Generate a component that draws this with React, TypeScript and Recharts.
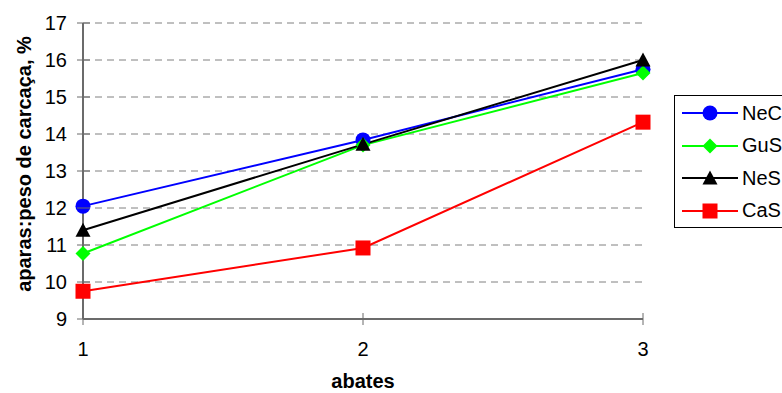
import React from "react";
import {
  LineChart,
  Line,
  XAxis,
  YAxis,
  CartesianGrid,
  Label,
} from "recharts";

const abates = [1, 2, 3];
const neC = [12.05, 13.84, 15.75];
const guS = [10.77, 13.7, 15.65];
const neS = [11.4, 13.72, 16.0];
const caS = [9.75, 10.92, 14.32];
const yTicks = [9, 10, 11, 12, 13, 14, 15, 16, 17];

const FONT = "'Liberation Sans', Arial, sans-serif";
const AXIS = "#6b6b6b";

type Shape = "circle" | "diamond" | "triangle" | "square";

const series: { key: string; color: string; shape: Shape }[] = [
  { key: "NeC", color: "#0000FF", shape: "circle" },
  { key: "GuS", color: "#00FF00", shape: "diamond" },
  { key: "NeS", color: "#000000", shape: "triangle" },
  { key: "CaS", color: "#FF0000", shape: "square" },
];

const data = abates.map((a, i) => ({
  abate: a,
  NeC: neC[i],
  GuS: guS[i],
  NeS: neS[i],
  CaS: caS[i],
}));

function Marker({ cx, cy, shape, color }: { cx: number; cy: number; shape: Shape; color: string }) {
  const s = 7.5;
  if (shape === "circle") return <circle cx={cx} cy={cy} r={s} fill={color} />;
  if (shape === "diamond")
    return (
      <polygon
        points={`${cx},${cy - s} ${cx + s},${cy} ${cx},${cy + s} ${cx - s},${cy}`}
        fill={color}
      />
    );
  if (shape === "triangle")
    return (
      <polygon
        points={`${cx},${cy - s} ${cx + s},${cy + s - 1} ${cx - s},${cy + s - 1}`}
        fill={color}
      />
    );
  return <rect x={cx - s} y={cy - s} width={2 * s} height={2 * s} fill={color} />;
}

const makeDot = (shape: Shape, color: string) => (props: any) =>
  <Marker key={`${shape}-${props.index}`} cx={props.cx} cy={props.cy} shape={shape} color={color} />;

// y ticks cross the axis line
const YTick = (props: any) => {
  const { x, y, payload } = props;
  return (
    <g>
      <line x1={x - 6} x2={x + 7} y1={y} y2={y} stroke={AXIS} strokeWidth={1} />
      <text x={x - 16} y={y} dy="0.36em" textAnchor="end" fontSize={20} fill="#000" fontFamily={FONT}>
        {payload.value}
      </text>
    </g>
  );
};

const XTick = (props: any) => {
  const { x, y, payload } = props;
  return (
    <g>
      <line x1={x} x2={x} y1={y - 6} y2={y + 6} stroke={AXIS} strokeWidth={1} />
      <text x={x} y={y + 37} textAnchor="middle" fontSize={20} fill="#000" fontFamily={FONT}>
        {payload.value}
      </text>
    </g>
  );
};

const LegendBox = () => (
  <div
    style={{
      position: "absolute",
      left: 674,
      top: 95,
      border: "1px solid #000",
      background: "#fff",
      width: 130,
      height: 133,
      boxSizing: "border-box",
      paddingTop: 1,
      fontFamily: FONT,
      fontSize: 20,
    }}
  >
    {series.map((s) => (
      <div key={s.key} style={{ display: "flex", alignItems: "center", height: 32.5 }}>
        <svg width={64} height={20} style={{ marginLeft: 6 }}>
          <line x1={1} x2={57} y1={10} y2={10} stroke={s.color} strokeWidth={2} />
          <Marker cx={29} cy={10} shape={s.shape} color={s.color} />
        </svg>
        <span style={{ marginLeft: -3 }}>{s.key}</span>
      </div>
    ))}
  </div>
);

export default function App() {
  return (
    <div
      style={{
        position: "absolute",
        left: 0,
        top: 0,
        width: 782,
        height: 393,
        overflow: "hidden",
        background: "#fff",
      }}
    >
      <LineChart
        width={782}
        height={393}
        data={data}
        margin={{ top: 23, right: 139, left: 0, bottom: 34 }}
        style={{ fontFamily: FONT }}
      >
        <CartesianGrid horizontal vertical={false} stroke="#808080" strokeDasharray="7 5" />
        <XAxis
          dataKey="abate"
          type="number"
          domain={[1, 3]}
          ticks={abates}
          height={40}
          tickLine={false}
          tickSize={0}
          tickMargin={0}
          axisLine={{ stroke: AXIS, strokeWidth: 2 }}
          tick={<XTick />}
        >
          <Label
            content={() => (
              <text x={363} y={388} textAnchor="middle" fontSize={20} fontWeight="bold" fontFamily={FONT}>
                abates
              </text>
            )}
          />
        </XAxis>
        <YAxis
          domain={[9, 17]}
          ticks={yTicks}
          interval={0}
          width={83}
          tickLine={false}
          tickSize={0}
          tickMargin={0}
          axisLine={{ stroke: AXIS, strokeWidth: 2 }}
          tick={<YTick />}
        >
          <Label
            content={() => (
              <text
                x={24}
                y={164}
                dy="0.36em"
                transform="rotate(-90 24 164)"
                textAnchor="middle"
                fontSize={20}
                fontWeight="bold"
                fontFamily={FONT}
              >
                aparas:peso de carcaça, %
              </text>
            )}
          />
        </YAxis>
        {series.map((s) => (
          <Line
            key={s.key}
            dataKey={s.key}
            type="linear"
            stroke={s.color}
            strokeWidth={2}
            dot={makeDot(s.shape, s.color)}
            activeDot={false}
            isAnimationActive={false}
          />
        ))}
      </LineChart>
      <LegendBox />
    </div>
  );
}
